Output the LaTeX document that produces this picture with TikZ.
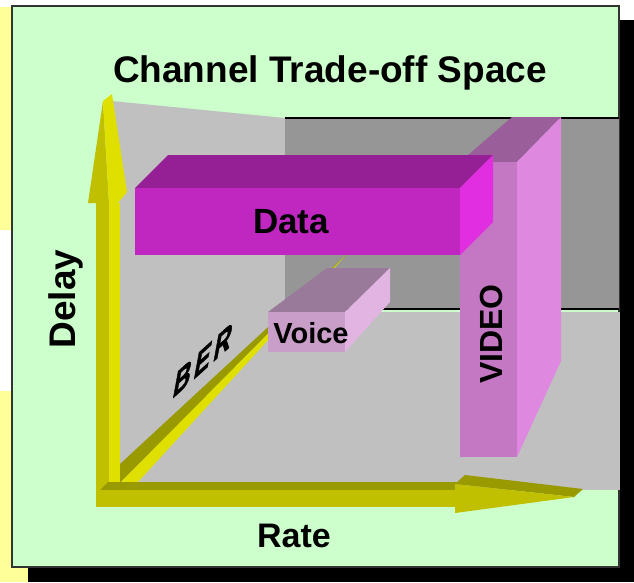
\documentclass[tikz,border=0pt]{standalone}
\usepackage{fontspec}
\setmainfont{Liberation Sans}
\newfontfamily\berfont[BoldFeatures={FakeBold=2}]{Liberation Sans}
\usepackage{xcolor}
\usetikzlibrary{positioning}

\definecolor{panelgreen}{HTML}{CCFFCC}
\definecolor{noteyellow}{HTML}{FFFF99}
\definecolor{wallgrey}{HTML}{C0C0C0}
\definecolor{backgrey}{HTML}{969696}
\definecolor{axisdark}{HTML}{999900}
\definecolor{axismid}{HTML}{C0C000}
\definecolor{axislight}{HTML}{E0E000}
\definecolor{datafront}{HTML}{C026C0}
\definecolor{datatop}{HTML}{952095}
\definecolor{dataside}{HTML}{E02EE0}
\definecolor{videofront}{HTML}{C478C4}
\definecolor{videotop}{HTML}{9A5E9A}
\definecolor{videoside}{HTML}{DF88DF}
\definecolor{voicefront}{HTML}{C99EC9}
\definecolor{voicetop}{HTML}{9A7A9A}
\definecolor{voiceside}{HTML}{E2B4E2}

\begin{document}
\begin{tikzpicture}[x=1pt, y=-1pt,
			lbl/.style={inner sep=0pt, text=black, anchor=base},
			bigtxt/.style={lbl, font=\fontsize{37}{44}\selectfont\bfseries},
			boxtxt/.style={lbl, font=\fontsize{#1}{40}\selectfont\bfseries},
			rule/.style={draw=black, line width=2pt},
			]
			\useasboundingbox (0,0) rectangle (634,582);
			
			%% ── Slide backdrop ───────────────────────────────────────────────────────────
			\fill[noteyellow] (0,7) rectangle (20,230);
			\fill[noteyellow] (0,391) rectangle (28,582);
			\fill[black] (28,20) rectangle (634,582);
			\filldraw[fill=panelgreen, draw=black!80, line width=1.2pt] (12,6) rectangle (619,567);
			
			%% ── Walls of the space ───────────────────────────────────────────────────────
			\fill[wallgrey] (112,101) -- (285,118) -- (285,490) -- (112,490) -- cycle;
			\fill[wallgrey] (285,312) rectangle (620,490);
			\fill[backgrey] (285,118) rectangle (619,309);
			\draw[rule] (285,118) -- (619,118);
			\draw[rule] (285,309) -- (619,309);
			
			%% ── BER axis ─────────────────────────────────────────────────────────────────
			\fill[axisdark]  (120,464) -- (347,254) -- (120,483) -- cycle;
			\fill[axislight] (120,483) -- (347,254) -- (137,483) -- cycle;
			
			%% ── Delay axis ───────────────────────────────────────────────────────────────
			\fill[axismid]   (96,203) rectangle (109,495);
			\fill[axislight] (109,203) rectangle (120,482);
			\fill[axismid]   (88,203) -- (103,101) -- (109,203) -- cycle;
			\fill[axislight] (103,101) -- (112,94) -- (127,192) -- (118,203) -- (109,203) -- cycle;
			
			%% ── Rate axis ────────────────────────────────────────────────────────────────
			\fill[axisdark] (100,490) -- (108,482) -- (460,482) -- (460,490) -- cycle;
			\fill[axismid]  (96,490) rectangle (456,507);
			\fill[axisdark] (455,484) -- (465,475) -- (583,489) -- (574,497) -- cycle;
			\fill[axismid]  (455,484) -- (574,497) -- (455,513) -- cycle;
			
			%% ── VIDEO box ────────────────────────────────────────────────────────────────
			\fill[videotop]   (460,162) -- (512,117) -- (561,117) -- (517,162) -- cycle;
			\fill[videofront] (460,162) rectangle (517,457);
			\fill[videoside]  (517,162) -- (561,117) -- (561,361) -- (517,457) -- cycle;
			
			%% ── Data box ─────────────────────────────────────────────────────────────────
			\fill[datatop]   (135,188) -- (168,155) -- (493,155) -- (460,188) -- cycle;
			\fill[datafront] (135,188) rectangle (460,255);
			\fill[dataside]  (460,188) -- (493,155) -- (493,222) -- (460,255) -- cycle;
			
			%% ── Voice box ────────────────────────────────────────────────────────────────
			\fill[voicetop]   (268,312) -- (327,268) -- (390,268) -- (345,312) -- cycle;
			\fill[voicefront] (268,312) rectangle (345,352);
			\fill[voiceside]  (345,312) -- (390,268) -- (390,302) -- (345,352) -- cycle;
			
			%% ── Labels ───────────────────────────────────────────────────────────────────
			\node[bigtxt] (title) at (330,82) {Channel Trade-off Space};
			\node[bigtxt, rotate=90] (delay) at (75,299) {Delay};
			\node[boxtxt=34] (rate) at (294,547) {Rate};
			\node[boxtxt=35] (datalbl) at (291,233) {Data};
			\node[boxtxt=29] (voicelbl) at (311,343) {Voice};
			\node[boxtxt=32, rotate=90] (videolbl) at (502,334) {VIDEO};
			\node[inner sep=0pt, font=\fontsize{32}{40}\berfont\bfseries,
				rotate=42, xslant=1.3, yscale=0.75] (ber) at (203,360) {B\kern5pt E\kern5pt R};
			
		\end{tikzpicture}
\end{document}
